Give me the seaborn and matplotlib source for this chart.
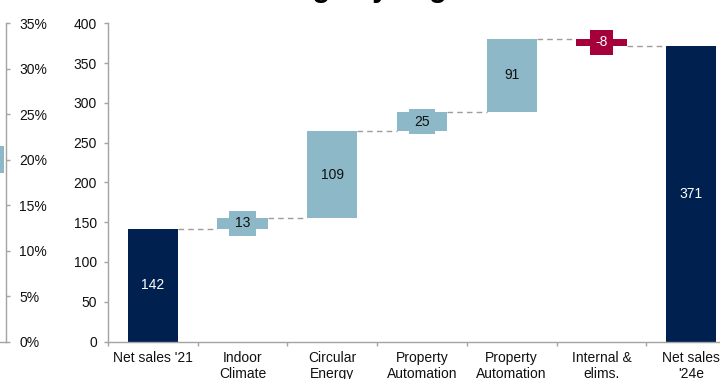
import numpy as np
import pandas as pd
import matplotlib
matplotlib.use("Agg")
import matplotlib.pyplot as plt
import seaborn as sns

# ---------------- data ----------------
categories = ["Net sales '21", "Indoor\nClimate", "Circular\nEnergy",
              "Property\nAutomation", "Property\nAutomation",
              "Internal &\nelims.", "Net sales\n'24e"]
values = [142, 13, 109, 25, 91, -8, 371]
is_total = [True, False, False, False, False, False, True]
value_labels = ["142", "13", "109", "25", "91", "-8", "371"]
y_ticks = [0, 50, 100, 150, 200, 250, 300, 350, 400]
pct_ticks = [0, 5, 10, 15, 20, 25, 30, 35]
pct_labels = ["0%", "5%", "10%", "15%", "20%", "25%", "30%", "35%"]
prev_bar_low = [18.5]
prev_bar_high = [21.5]
title = "Net sales bridge by segment"

NAVY = "#00214F"
LIGHT = "#8DB8C7"
CRIMSON = "#A5003A"
GRAY = "#A3A3A3"
DASH = "#A39C96"

sns.set_style("white")
plt.rcParams["font.family"] = ["Liberation Sans", "DejaVu Sans"]

# ---------------- waterfall geometry from values ----------------
bottoms, heights, levels, colors, txtcol = [], [], [], [], []
running = 0
for v, t in zip(values, is_total):
    if t:
        bottoms.append(0)
        heights.append(v)
        running = v
        colors.append(NAVY)
        txtcol.append("white")
    else:
        bottoms.append(min(running, running + v))
        heights.append(abs(v))
        running += v
        if v >= 0:
            colors.append(LIGHT)
            txtcol.append("#111111")
        else:
            colors.append(CRIMSON)
            txtcol.append("white")
    levels.append(running)

fig = plt.figure(figsize=(7.2, 3.79), dpi=100)
W, H = 720, 379
y0_px, ytop_px = 341.5, 23.3
ax_bottom = (H - y0_px) / H
ax_height = (y0_px - ytop_px) / H

# ---------------- partial previous chart (left) ----------------
ax0 = fig.add_axes([-100 / W, ax_bottom, 106 / W, ax_height])
df0 = pd.DataFrame({"pos": [0], "h": [prev_bar_high[0] - prev_bar_low[0]]})
sns.barplot(data=df0, x="pos", y="h", bottom=prev_bar_low, width=1.0,
            color=LIGHT, saturation=1, errorbar=None, linewidth=0, ax=ax0)
ax0.set_xlim(-1.2, 0.53)
ax0.set_ylim(0, 35)
ax0.set_yticks(pct_ticks)
ax0.set_yticklabels(pct_labels)
ax0.yaxis.tick_right()
ax0.set_xticks([])
ax0.set_xlabel("")
ax0.set_ylabel("")
for s in ["left", "top"]:
    ax0.spines[s].set_visible(False)
for s in ["right", "bottom"]:
    ax0.spines[s].set_visible(True)
    ax0.spines[s].set_color(GRAY)
    ax0.spines[s].set_linewidth(1.0)
ax0.tick_params(axis="y", right=True, left=False, length=3, width=1,
                color=GRAY, pad=6.5, labelsize=10, labelcolor="#111111",
                direction="out")

# ---------------- main waterfall ----------------
ax = fig.add_axes([108 / W, ax_bottom, 628 / W, ax_height])
df = pd.DataFrame({"pos": list(range(len(values))), "h": heights})
bw = 0.56
sns.barplot(data=df, x="pos", y="h", bottom=bottoms, width=bw,
            color=LIGHT, saturation=1, errorbar=None, linewidth=0, ax=ax)
for patch, c in zip(ax.patches, colors):
    patch.set_facecolor(c)
    patch.set_edgecolor("none")

# connectors
for i in range(len(values) - 1):
    ax.plot([i + bw / 2, i + 1 - bw / 2], [levels[i], levels[i]],
            ls=(0, (4, 3)), color=DASH, lw=1.0, zorder=1)

# labels
for i, (b, h, lab, fc, tc) in enumerate(zip(bottoms, heights, value_labels, colors, txtcol)):
    ax.text(i, b + h / 2, lab, ha="center", va="center", fontsize=10,
            color=tc, zorder=5,
            bbox=dict(boxstyle="square,pad=0.4", fc=fc, ec="none"))

ax.set_xlim(-0.5, len(values) - 0.5)
ax.set_ylim(0, 400)
ax.set_yticks(y_ticks)
ax.set_yticklabels([str(t) for t in y_ticks])
ax.set_xticks(range(len(values)))
ax.set_xticklabels(categories)
ax.set_xticks(np.arange(-0.5, len(values), 1.0), minor=True)
ax.set_xlabel("")
ax.set_ylabel("")
for s in ["top", "right"]:
    ax.spines[s].set_visible(False)
for s in ["left", "bottom"]:
    ax.spines[s].set_visible(True)
    ax.spines[s].set_color(GRAY)
    ax.spines[s].set_linewidth(1.0)
ax.tick_params(axis="x", which="major", bottom=True, length=0, pad=7,
               labelsize=10, labelcolor="#111111")
ax.tick_params(axis="x", which="minor", bottom=True, length=3, width=1,
               color=GRAY, direction="out")
ax.tick_params(axis="y", left=True, length=3, width=1, color=GRAY, pad=5,
               labelsize=10, labelcolor="#111111", direction="out")

# title (mostly cropped off at the top)
fig.text(319 / W, 1 + 2.7 / H, title, ha="center", va="baseline",
         fontsize=21, fontweight="bold", color="black")

fig.savefig("out.png", dpi=100)
